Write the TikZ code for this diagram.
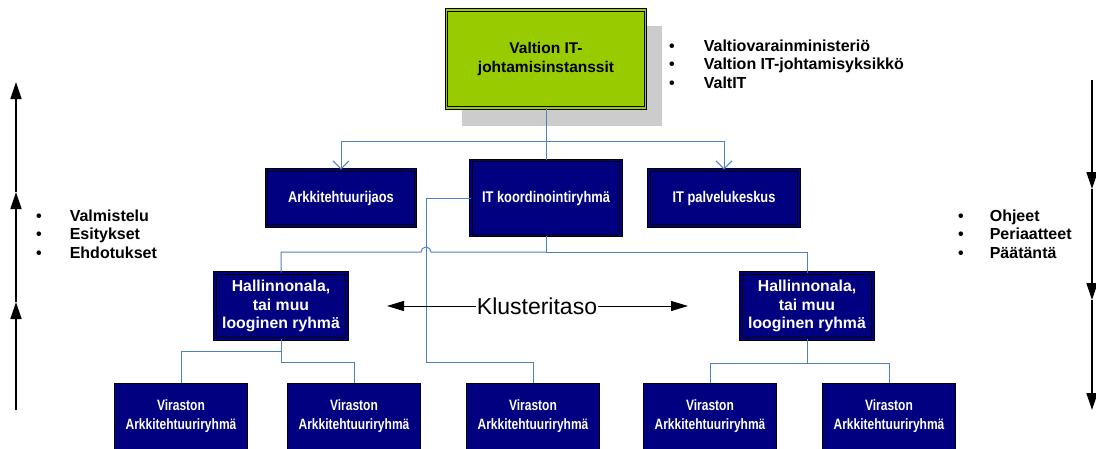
\documentclass[tikz,border=0pt]{standalone}
\usepackage{fontspec}
\setmainfont{Liberation Sans}
\newfontfamily\boxsans{Liberation Sans}[FakeStretch=0.8]
\newfontfamily\midsans{Liberation Sans}[FakeStretch=0.83]
\usetikzlibrary{arrows.meta}
\definecolor{navybox}{HTML}{000080}
\definecolor{limebox}{HTML}{99CC00}
\definecolor{shadowgray}{HTML}{CCCCCC}
\definecolor{linkblue}{HTML}{4F81BD}
\tikzset{
  topbox/.style={draw=black, line width=0.8pt, double=limebox, double distance=1.6pt, fill=limebox, text=black, inner sep=0pt, align=center, minimum width=199pt, minimum height=98pt, font=\fontsize{15.5}{19}\selectfont\bfseries},
  unitbox/.style={draw=black, line width=0.8pt, double=navybox, double distance=1.6pt, fill=navybox, text=white, inner sep=0pt, align=center, font=\midsans\fontsize{15.5}{18}\selectfont\bfseries},
  groupbox/.style={unitbox, minimum width=132pt, minimum height=66pt, font=\fontsize{15.8}{18.5}\selectfont\bfseries},
  agencybox/.style={draw=black, line width=0.8pt, fill=navybox, text=white, inner sep=0pt, align=center, minimum width=133pt, minimum height=67pt, font=\boxsans\fontsize{15}{19}\selectfont\bfseries},
  link/.style={draw=linkblue, line width=1pt},
  linkarrow/.style={link, -{Straight Barb[length=8pt,width=16pt]}},
  flowarrow/.style={draw=black, line width=1.4pt, -{Triangle[length=17pt,width=11pt]}},
  levelarrow/.style={draw=black, line width=1pt, -{Triangle[length=17pt,width=10pt]}},
  bulletlist/.style={anchor=west, inner sep=0pt, font=\fontsize{16}{18.5}\selectfont\bfseries}
}
\begin{document}
\begin{tikzpicture}[x=1pt,y=-1pt]
\path[fill=white] (0,0) rectangle (1096,448);
\useasboundingbox (0,0) rectangle (1096,448);

\node[fill=shadowgray, inner sep=0pt, minimum width=200pt, minimum height=100pt] (shade) at (562,76) {};
\node[topbox] (valtion) at (546,59) {Valtion IT-\\johtamisinstanssit};

\node[unitbox, minimum width=149pt, minimum height=56pt] (arkjaos) at (341,198) {Arkkitehtuurijaos};
\node[unitbox, minimum width=150pt, minimum height=75pt] (itkoord) at (546,198) {IT koordinointiryhmä};
\node[unitbox, minimum width=150pt, minimum height=56pt] (itpalv) at (724,198) {IT palvelukeskus};

\node[groupbox] (hala1) at (281,306) {Hallinnonala,\\tai muu\\looginen ryhmä};
\node[groupbox] (hala2) at (807,306) {Hallinnonala,\\tai muu\\looginen ryhmä};

\node[agencybox] (vir1) at (181,416.5) {Viraston\\Arkkitehtuuriryhmä};
\node[agencybox] (vir2) at (354,416.5) {Viraston\\Arkkitehtuuriryhmä};
\node[agencybox] (vir3) at (533,416.5) {Viraston\\Arkkitehtuuriryhmä};
\node[agencybox] (vir4) at (710,416.5) {Viraston\\Arkkitehtuuriryhmä};
\node[agencybox] (vir5) at (889,416.5) {Viraston\\Arkkitehtuuriryhmä};

\node[bulletlist] (omistajat) at (669,66) {\begin{tabular}{@{}l@{\hspace{29pt}}l@{}}\textbullet & Valtiovarainministeriö\\ \textbullet & Valtion IT-johtamisyksikkö\\ \textbullet & ValtIT\end{tabular}};
\node[bulletlist] (ylos) at (36,236) {\begin{tabular}{@{}l@{\hspace{28pt}}l@{}}\textbullet & Valmistelu\\ \textbullet & Esitykset\\ \textbullet & Ehdotukset\end{tabular}};
\node[bulletlist] (alas) at (958,236) {\begin{tabular}{@{}l@{\hspace{26pt}}l@{}}\textbullet & Ohjeet\\ \textbullet & Periaatteet\\ \textbullet & Päätäntä\end{tabular}};

\node[inner sep=1pt, font=\fontsize{23}{27}\selectfont] (klust) at (537,306) {Klusteritaso};
\coordinate (klvas) at (387,306);
\coordinate (kloik) at (688,306);

\coordinate (jtop) at (546,141);
\coordinate (jmid) at (546,252);
\coordinate (hopr) at (431,252);
\coordinate (jside) at (426,362);
\coordinate (jleft) at (281,351);
\coordinate (jright) at (281,362);
\coordinate (jh2) at (807,363);

\coordinate (la0) at (16,410);
\coordinate (la1) at (16,302);
\coordinate (la2) at (16,192);
\coordinate (la3) at (16,82);
\coordinate (ra0) at (1092,80);
\coordinate (ra1) at (1092,189);
\coordinate (ra2) at (1092,300);
\coordinate (ra3) at (1092,410);

\path[link] (valtion) -- (itkoord);
\path[linkarrow] (jtop) -| (arkjaos);
\path[linkarrow] (jtop) -| (itpalv);
\path[link] (itkoord) -- (jmid);
\path[link] (jmid) -| (hala2);
\path[link] (jmid) -- (hopr) arc[start angle=0, end angle=-180, radius=5] -| (hala1);
\path[link] (itkoord.west) -| (jside) -| (vir3);
\path[link] (hala1) -- (jleft) -| (vir1);
\path[link] (jleft) -- (jright) -| (vir2);
\path[link] (hala2) -- (jh2) -| (vir4);
\path[link] (jh2) -| (vir5);

\path[levelarrow] (klust.west) -- (klvas);
\path[levelarrow] (klust.east) -- (kloik);

\path[flowarrow] (la0) -- (la1);
\path[flowarrow] (la1) -- (la2);
\path[flowarrow] (la2) -- (la3);
\path[flowarrow] (ra0) -- (ra1);
\path[flowarrow] (ra1) -- (ra2);
\path[flowarrow] (ra2) -- (ra3);
\end{tikzpicture}
\end{document}
